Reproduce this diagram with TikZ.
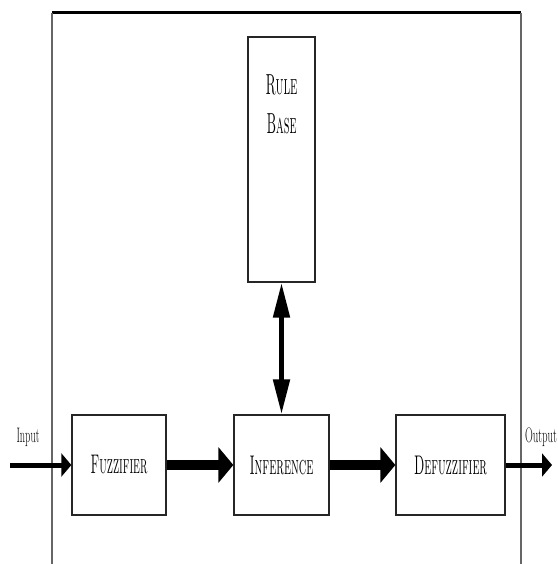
\documentclass[tikz,border=0pt]{standalone}
\usepackage{fontspec}
\usepackage{graphicx}
\usetikzlibrary{arrows.meta}
\begin{document}
\begin{tikzpicture}[x=1pt,y=-1pt,
  block/.style={draw=black!85, line width=1.3pt, fill=white, inner sep=0pt, minimum height=100pt,
                font=\fontsize{27}{29}\selectfont\addfontfeatures{FakeBold=1.6}},
  lbl/.style={font=\fontsize{29}{31}\selectfont\addfontfeatures{FakeBold=1.6}, inner sep=0pt},
  io/.style={font=\fontsize{21}{23}\selectfont\addfontfeatures{FakeBold=1}, inner sep=0pt},
  bigarrow/.style={line width=10pt, -{Triangle[length=15pt,width=35pt]}},
  thinarrow/.style={line width=5pt, -{Triangle[length=10pt,width=23pt]}},
  duoarrow/.style={line width=5pt, {Triangle[length=35pt,width=16pt]}-{Triangle[length=35pt,width=16pt]}}]
\useasboundingbox (0,0) rectangle (557,564);
% outer frame, open at the bottom
\draw[line width=3pt] (52,13) -- (521,13);
\draw[line width=1.3pt, black!60] (52,13) -- (52,564);
\draw[line width=1.3pt, black!60] (521,13) -- (521,564);
% blocks
\node[block, minimum width=67pt, minimum height=245pt] (rule) at (281.5,159.5) {};
\node[lbl] (rule1) at (281.5,85) {\resizebox{32pt}{\height}{\textsc{Rule}}};
\node[lbl] (rule2) at (281.5,124) {\resizebox{30pt}{\height}{\textsc{Base}}};
\node[block, minimum width=94pt] (fuzz) at (119,465) {\resizebox{57pt}{\height}{\textsc{Fuzzifier}}};
\node[block, minimum width=95pt] (inf) at (281.5,465) {\resizebox{64pt}{\height}{\textsc{Inference}}};
\node[block, minimum width=109pt] (defuzz) at (450.5,465) {\resizebox{73pt}{\height}{\textsc{Defuzzifier}}};
% signal path
\coordinate (inp) at (10,465);
\coordinate (outp) at (552,465);
\draw[thinarrow] (inp) -- (fuzz.west);
\draw[bigarrow] (fuzz.east) -- (inf.west);
\draw[bigarrow] (inf.east) -- (defuzz.west);
\draw[thinarrow] (defuzz.east) -- (outp);
\draw[duoarrow] (rule.south) -- (inf.north);
% labels
\node[io] (inlabel) at (28,437) {\resizebox{23pt}{\height}{Input}};
\node[io] (outlabel) at (541,437) {\resizebox{32pt}{\height}{Output}};
\end{tikzpicture}
\end{document}
